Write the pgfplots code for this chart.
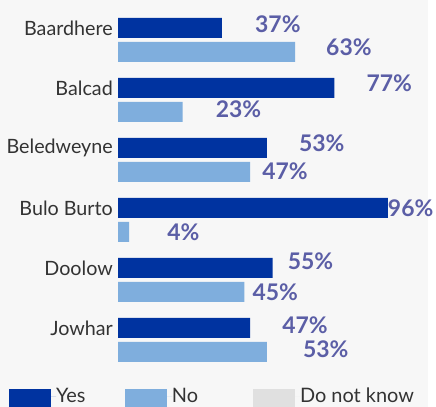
\documentclass[border=0pt]{standalone}
\usepackage{pgfplots}
\pgfplotsset{compat=1.18}
\usepackage{pgfplotstable}
\usepackage{fontspec}
\setmainfont{Lato}
\definecolor{yescol}{HTML}{0033A0}
\definecolor{nocol}{HTML}{7FAEDD}
\definecolor{dnkcol}{HTML}{E0E0E0}
\definecolor{labcol}{HTML}{5B5EA6}
\definecolor{bgcol}{HTML}{F7F7F7}
\definecolor{txtcol}{HTML}{333333}

\pgfplotstableread{
y yes no dxy dyy dxn dyn
5 37 63 33 4 31 5
4 77 23 32 5 33 3
3 53 47 32 5 12 1
2 96 4 0 0 38 0
1 55 45 15 7 8 0
0 47 53 32 3 36 3
}\data

\pgfplotsset{
  myleg/.style={legend image code/.code={
    \fill[##1] (0bp,-15bp) rectangle (42bp,7bp);
    \path (0bp,0bp) -- (47bp,0bp);}},
  lab/.style={nodes near coords={\pgfmathprintnumber[assume math mode=true]{\pgfplotspointmeta}\%},
    point meta=x,
    every node near coord/.append style={anchor=west, inner sep=0pt,
      xshift=\dx bp, yshift=\dy bp, text=labcol,
      font=\bfseries\fontsize{23}{23}\selectfont}},
}

\begin{document}
\begin{tikzpicture}
\useasboundingbox (0bp,0bp) rectangle (436bp,407bp);
\fill[bgcol] (0bp,0bp) rectangle (428bp,407bp);
\begin{axis}[
  at={(118bp,37bp)}, anchor=south west,
  scale only axis, width=281bp, height=360bp,
  xmin=0, xmax=100, ymin=-0.5, ymax=5.5,
  xbar, bar width=20bp,
  axis line style={draw=none},
  xtick=\empty,
  ytick={0,1,2,3,4,5},
  yticklabels={Jowhar,Doolow,Bulo Burto,Beledweyne,Balcad,Baardhere},
  major tick length=0pt,
  y tick label style={anchor=east, inner sep=0pt, xshift=-5bp, yshift=12bp,
    text=txtcol, font=\fontsize{19.8}{20}\selectfont},
  clip=false,
  legend columns=3,
  legend style={at={(axis description cs:-0.3879,-0.05)}, anchor=north west,
    draw=none, fill=none, inner sep=0pt, outer sep=0pt,
    nodes={inner sep=0pt, text=txtcol, font=\fontsize{20}{20}\selectfont},
    /tikz/every even column/.append style={column sep=0pt},
    /tikz/every odd column/.append style={column sep=0pt}},
]
\addplot[myleg, draw=none, fill=yescol, bar shift=12bp, lab,
  visualization depends on={\thisrow{dxy} \as \dx},
  visualization depends on={\thisrow{dyy} \as \dy}]
  table[x=yes, y=y] {\data};
\addlegendentry{\makebox[69bp][l]{Yes}}
\addplot[myleg, draw=none, fill=nocol, bar shift=-12bp, lab,
  visualization depends on={\thisrow{dxn} \as \dx},
  visualization depends on={\thisrow{dyn} \as \dy}]
  table[x=no, y=y] {\data};
\addlegendentry{\makebox[81bp][l]{No}}
\addlegendimage{myleg, draw=none, fill=dnkcol}
\addlegendentry{Do not know}
\end{axis}
\end{tikzpicture}
\end{document}
